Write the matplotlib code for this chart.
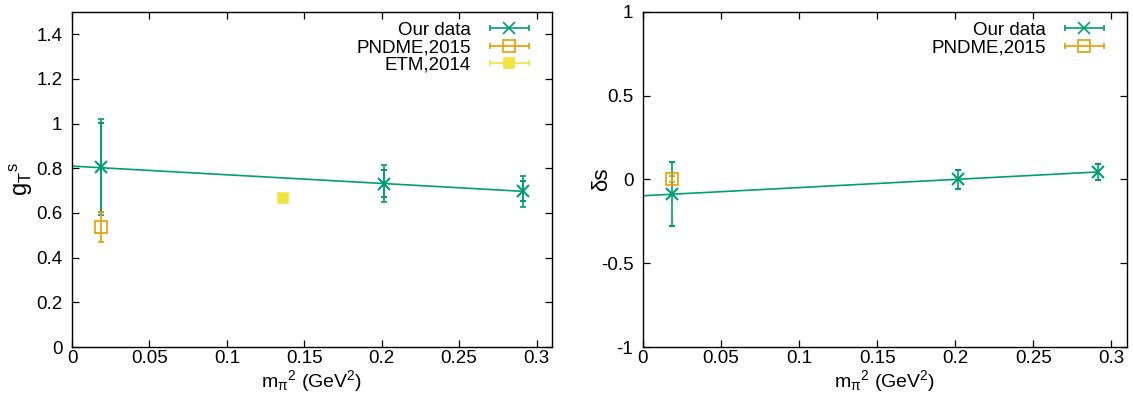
import numpy as np
import matplotlib
matplotlib.use("Agg")
import matplotlib.pyplot as plt
from matplotlib.lines import Line2D
from matplotlib.legend_handler import HandlerLine2D, HandlerTuple

plt.rcParams['font.family'] = ['Liberation Sans', 'DejaVu Sans']
plt.rcParams['mathtext.fontset'] = 'custom'
plt.rcParams['mathtext.rm'] = 'Liberation Sans'
plt.rcParams['mathtext.it'] = 'Liberation Sans'
plt.rcParams['mathtext.sf'] = 'Liberation Sans'
plt.rcParams['font.size'] = 13

# colours (gnuplot default palette)
c_ours = '#009e73'
c_pndme = '#e69f00'
c_etm = '#f0e442'

# ---- left panel: g_T^s ----
mpi2 = [0.0188, 0.2018, 0.2912]
gT = [0.805, 0.732, 0.697]
gT_err_in = [0.200, 0.062, 0.045]
gT_err_out = [0.215, 0.083, 0.068]
gT_fit_x = [0.0, 0.2912]
gT_fit_y = [0.81, 0.697]

pndme_x = [0.0188]
pndme_gT = [0.538]
pndme_gT_err = [0.066]

etm_x = [0.1365]
etm_gT = [0.667]
etm_gT_err = [0.005]

# ---- right panel: delta s ----
ds = [-0.086, 0.001, 0.043]
ds_err = [0.19, 0.055, 0.047]
ds_fit_x = [0.0, 0.2912]
ds_fit_y = [-0.097, 0.045]

pndme_ds = [0.004]
pndme_ds_err = [0.018]

xticks = [0, 0.05, 0.1, 0.15, 0.2, 0.25, 0.3]
xticklabels = ['0', '0.05', '0.1', '0.15', '0.2', '0.25', '0.3']
yticks_l = [0, 0.2, 0.4, 0.6, 0.8, 1.0, 1.2, 1.4]
yticklabels_l = ['0', '0.2', '0.4', '0.6', '0.8', '1', '1.2', '1.4']
yticks_r = [-1, -0.5, 0, 0.5, 1]
yticklabels_r = ['-1', '-0.5', '0', '0.5', '1']

fig = plt.figure(figsize=(11.33, 3.98), dpi=100)
axL = fig.add_axes([72/1133, 51/398, 480/1133, 335/398])
axR = fig.add_axes([643/1133, 51/398, 484/1133, 335/398])

lw = 1.2
ebkw = dict(linestyle='none', elinewidth=lw, capsize=2.5, capthick=lw)


def leg_handle(color, marker, ms, mfc):
    bar = Line2D([], [], color=color, lw=lw, marker='|', ms=5, mew=lw)
    mk = Line2D([], [], color=color, lw=0, marker=marker, ms=ms, mew=lw,
                mfc=mfc)
    return (bar, mk), {bar: HandlerLine2D(numpoints=2),
                       mk: HandlerLine2D(numpoints=1)}


def style(ax):
    ax.set_xlim(0, 0.31)
    ax.set_xticks(xticks)
    ax.set_xticklabels(xticklabels)
    ax.tick_params(direction='in', top=True, right=True, length=5,
                   width=0.9, labelsize=13.5)
    ax.tick_params(axis='y', pad=7)
    ax.tick_params(axis='x', pad=2)
    for s in ax.spines.values():
        s.set_linewidth(1.0)
    ax.set_xlabel(r'$\mathrm{m}_{\pi}{}^{2}$ (GeV$^{2}$)', fontsize=14,
                  labelpad=1)


legkw = dict(loc='upper right', frameon=False, markerfirst=False,
             handlelength=2.7, handletextpad=0.7, labelspacing=0.02,
             borderaxespad=0.0, borderpad=0.2, fontsize=13.5)

# left
axL.plot(gT_fit_x, gT_fit_y, color=c_ours, lw=lw)
axL.errorbar(mpi2, gT, yerr=gT_err_out, color=c_ours, **ebkw)
axL.errorbar(mpi2, gT, yerr=gT_err_in, color=c_ours, marker='x', ms=9,
             mew=1.5, **ebkw)
axL.errorbar(pndme_x, pndme_gT, yerr=pndme_gT_err, color=c_pndme,
             marker='s', ms=8, mfc='none', mew=lw, **ebkw)
axL.errorbar(etm_x, etm_gT, yerr=etm_gT_err, color=c_etm, marker='s',
             ms=7.5, mew=lw, **ebkw)
axL.set_ylim(0, 1.5)
axL.set_yticks(yticks_l)
axL.set_yticklabels(yticklabels_l)
axL.set_ylabel(r'$\mathrm{g}_{\mathrm{T}}{}^{\mathrm{s}}$', fontsize=17,
               labelpad=1)
style(axL)

h1, m1 = leg_handle(c_ours, 'x', 9, c_ours)
h2, m2 = leg_handle(c_pndme, 's', 8, 'none')
h3, m3 = leg_handle(c_etm, 's', 7.5, c_etm)
hm = {**m1, **m2, **m3, tuple: HandlerTuple(ndivide=1, pad=0)}
axL.legend([h1, h2, h3], ['Our data', 'PNDME,2015', 'ETM,2014'],
           handler_map=hm, bbox_to_anchor=(0.972, 0.982), **legkw)

# right
axR.plot(ds_fit_x, ds_fit_y, color=c_ours, lw=lw)
axR.errorbar(mpi2, ds, yerr=ds_err, color=c_ours, marker='x', ms=9,
             mew=1.5, **ebkw)
axR.errorbar(pndme_x, pndme_ds, yerr=pndme_ds_err, color=c_pndme,
             marker='s', ms=8, mfc='none', mew=lw, **ebkw)
axR.set_ylim(-1, 1)
axR.set_yticks(yticks_r)
axR.set_yticklabels(yticklabels_r)
axR.set_ylabel('δs', fontsize=16, labelpad=-8)
style(axR)

h1, m1 = leg_handle(c_ours, 'x', 9, c_ours)
h2, m2 = leg_handle(c_pndme, 's', 8, 'none')
hm = {**m1, **m2, tuple: HandlerTuple(ndivide=1, pad=0)}
axR.legend([h1, h2], ['Our data', 'PNDME,2015'], handler_map=hm,
           bbox_to_anchor=(0.972, 0.982), **legkw)

fig.savefig('out.png', dpi=100)
